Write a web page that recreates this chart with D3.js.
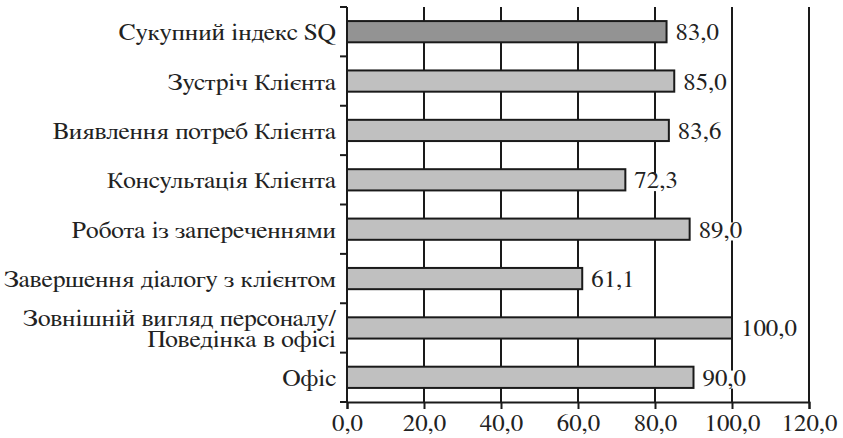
<!DOCTYPE html>
<html>
<head>
<meta charset="utf-8">
<script src="https://cdn.jsdelivr.net/npm/d3@7"></script>
<style>
  html, body { margin: 0; padding: 0; background: #fff; }
  svg { display: block; }
  text { font-family: "FreeSerif", "Tinos", "Liberation Serif", serif; fill: #222; }
</style>
</head>
<body>
<svg id="chart" width="843" height="438"></svg>
<script>
// Service-quality scores by stage of the customer interaction
const categories = [
  "Сукупний індекс SQ",
  "Зустріч Клієнта",
  "Виявлення потреб Клієнта",
  "Консультація Клієнта",
  "Робота із запереченнями",
  "Завершення діалогу з клієнтом",
  "Зовнішній вигляд персоналу/\nПоведінка в офісі",
  "Офіс"
];
const values = [83.0, 85.0, 83.6, 72.3, 89.0, 61.1, 100.0, 90.0];
const xTicks = [0, 20, 40, 60, 80, 100, 120];

const fmt = v => v.toFixed(1).replace(".", ",");

const svg = d3.select("#chart");
const margin = { top: 7, right: 34, bottom: 36, left: 347 };
const width = 843 - margin.left - margin.right;
const height = 438 - margin.top - margin.bottom;

const fontSize = 23;
const stretch = 1.08;     // numbers are set slightly wide
const catStretch = 1.11;  // category names a little wider still

const g = svg.append("g").attr("transform", `translate(${margin.left},${margin.top})`);

const x = d3.scaleLinear().domain([0, 120]).range([0, width]);
const y = d3.scaleBand().domain(categories).range([0, height]).paddingInner(0.57).paddingOuter(0.285);
const yBounds = d3.scaleLinear().domain([0, categories.length]).range([0, height]);

const ink = "#1a1a1a";

// vertical grid lines
g.append("g").selectAll("line")
  .data(xTicks.filter(t => t > 0))
  .join("line")
  .attr("x1", d => x(d)).attr("x2", d => x(d))
  .attr("y1", 0).attr("y2", height)
  .attr("stroke", ink).attr("stroke-width", 2);

// bars
g.append("g").selectAll("rect")
  .data(values)
  .join("rect")
  .attr("x", 0)
  .attr("y", (d, i) => y(categories[i]))
  .attr("width", d => x(d))
  .attr("height", y.bandwidth())
  .attr("fill", (d, i) => i === 0 ? "#939393" : "#c0c0c0")
  .attr("stroke", ink).attr("stroke-width", 2);

// value labels with a white backing
const labels = g.append("g").selectAll("g")
  .data(values)
  .join("g")
  .attr("transform", (d, i) => `translate(${x(d) + 9},${y(categories[i]) + y.bandwidth() / 2 + 8.5}) scale(${stretch},1)`);
labels.append("text")
  .attr("font-size", fontSize)
  .text(d => fmt(d));
labels.each(function () {
  const t = d3.select(this).select("text");
  const b = t.node().getBBox();
  d3.select(this).insert("rect", "text")
    .attr("x", b.x - 1).attr("y", b.y + 3)
    .attr("width", b.width + 2).attr("height", b.height - 5)
    .attr("fill", "#fff");
});

// left axis with ticks at category boundaries
g.append("line")
  .attr("x1", 0).attr("x2", 0).attr("y1", 0).attr("y2", height)
  .attr("stroke", ink).attr("stroke-width", 2);
g.append("g").selectAll("line")
  .data(d3.range(categories.length + 1))
  .join("line")
  .attr("x1", -7).attr("x2", 0)
  .attr("y1", d => yBounds(d)).attr("y2", d => yBounds(d))
  .attr("stroke", ink).attr("stroke-width", 2);

// category labels (multi-line names are split on \n)
const lineH = 21.5;
const catRows = g.append("g").selectAll("g")
  .data(categories)
  .join("g")
  .attr("transform", d => `translate(-11,${y(d) + y.bandwidth() / 2 + 8.5}) scale(${catStretch},1)`);
catRows.each(function (d) {
  const lines = d.split("\n");
  const row = d3.select(this);
  lines.forEach((ln, k) => {
    row.append("text")
      .attr("text-anchor", "end")
      .attr("font-size", fontSize)
      .attr("y", (k - (lines.length - 1) / 2) * lineH)
      .text(ln);
  });
});

// bottom axis
const xAxis = g.append("g")
  .attr("transform", `translate(0,${height})`)
  .call(d3.axisBottom(x).tickValues(xTicks).tickSize(7).tickPadding(6).tickFormat(fmt));
xAxis.select(".domain").attr("stroke", ink).attr("stroke-width", 2);
xAxis.selectAll(".tick line").attr("stroke", ink).attr("stroke-width", 2);
xAxis.selectAll(".tick text")
  .attr("font-size", fontSize)
  .attr("font-family", null)
  .attr("fill", null)
  .attr("transform", `scale(${stretch},1)`)
  .attr("x", 0);
</script>
</body>
</html>
